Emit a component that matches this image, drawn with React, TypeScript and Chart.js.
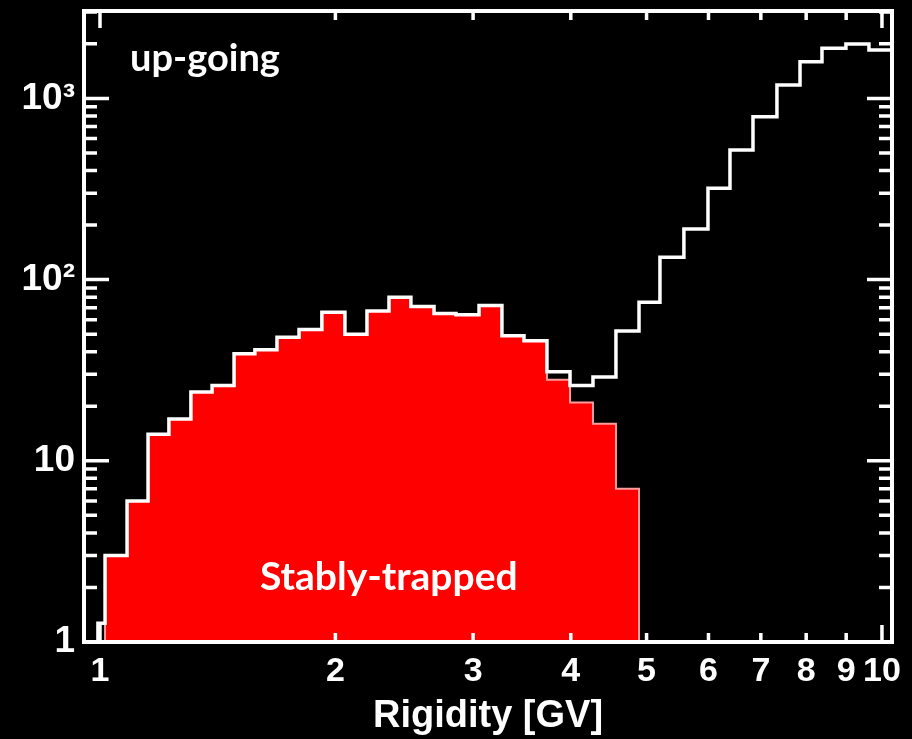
import React, { useEffect, useRef } from 'react';
import { Chart, registerables } from 'chart.js';

Chart.register(...registerables);

// Rigidity bin edges [GV] (log-spaced histogram bins)
const binEdges = [
  0.994, 1.015, 1.083, 1.152, 1.225, 1.307, 1.391, 1.484, 1.578, 1.684,
  1.797, 1.922, 2.057, 2.195, 2.342, 2.498, 2.674, 2.853, 3.053, 3.266,
  3.485, 3.729, 3.991, 4.27, 4.569, 4.89, 5.201, 5.581, 5.991, 6.392,
  6.84, 7.34, 7.856, 8.381, 8.993, 9.624, 10.3,
];

// Counts per bin: all up-going particles
const upGoing = [
  1.27, 3, 6, 14, 17, 24, 26, 39, 41, 48,
  53, 66, 50, 67, 80, 71, 65, 64, 72, 49,
  46, 31, 26, 29, 52, 75, 133, 190, 319, 519,
  793, 1186, 1595, 1891, 1996, 1849,
];

// Counts per bin: stably-trapped subset
const stablyTrapped = [
  0, 3, 6, 14, 17, 24, 26, 39, 41, 48,
  53, 66, 50, 67, 80, 71, 65, 64, 72, 49,
  46, 28, 21, 16, 7, 0, 0, 0, 0, 0,
  0, 0, 0, 0, 0, 0,
];

// Axis ranges
const xRange = [0.954, 10.3];
const yRange = [1, 3036];

// Axis ticks and labels
const xTickValues = [1, 2, 3, 4, 5, 6, 7, 8, 9, 10];
const xMajorMarks = [1, 10];
const xMinorMarks = [2, 3, 4, 5, 6, 7, 8, 9];
const yTickValues = [1, 10, 100, 1000];
const yTickLabels = ['1', '10', '10²', '10³'];
const yMinorMarks = [
  2, 3, 4, 5, 6, 7, 8, 9,
  20, 30, 40, 50, 60, 70, 80, 90,
  200, 300, 400, 500, 600, 700, 800, 900,
  2000, 3000,
];

const xTitle = 'Rigidity [GV]';
const upGoingLabel = 'up-going';
const trappedLabel = 'Stably-trapped';

// Turn per-bin counts into stepped points (empty bins sit on the axis floor)
function histPoints(values: number[]) {
  const floor = yRange[0];
  const pts = [{ x: binEdges[0], y: floor }];
  values.forEach((v, i) => pts.push({ x: binEdges[i], y: Math.max(v, floor) }));
  pts.push({ x: binEdges[values.length], y: Math.max(values[values.length - 1], floor) });
  return pts;
}

// Boxed frame with inward tick marks on all four sides
const frameTicks = {
  id: 'frameTicks',
  afterDatasetsDraw(chart: any) {
    const { ctx, chartArea: a, scales } = chart;
    const xs = scales.x;
    const ys = scales.y;
    ctx.save();
    ctx.strokeStyle = '#ffffff';
    ctx.lineWidth = 3.5;
    ctx.lineCap = 'butt';
    ctx.beginPath();
    const xMark = (v: number, len: number) => {
      const px = xs.getPixelForValue(v);
      ctx.moveTo(px, a.bottom);
      ctx.lineTo(px, a.bottom - len);
      ctx.moveTo(px, a.top);
      ctx.lineTo(px, a.top + len);
    };
    const yMark = (v: number, len: number) => {
      const py = ys.getPixelForValue(v);
      ctx.moveTo(a.left, py);
      ctx.lineTo(a.left + len, py);
      ctx.moveTo(a.right, py);
      ctx.lineTo(a.right - len, py);
    };
    xMajorMarks.forEach((v) => xMark(v, 17));
    xMinorMarks.forEach((v) => xMark(v, 9));
    yTickValues.forEach((v) => yMark(v, 25));
    yMinorMarks.forEach((v) => yMark(v, 13));
    ctx.stroke();
    ctx.lineWidth = 4;
    ctx.strokeRect(a.left, a.top, a.right - a.left, a.bottom - a.top);
    ctx.restore();
  },
};

// In-plot text labels
const panelLabels = {
  id: 'panelLabels',
  afterDatasetsDraw(chart: any) {
    const { ctx, chartArea: a } = chart;
    ctx.save();
    ctx.fillStyle = '#ffffff';
    ctx.textAlign = 'left';
    ctx.textBaseline = 'alphabetic';
    ctx.font = 'bold 38px Lato';
    ctx.fillText(upGoingLabel, a.left + 46, a.top + 60);
    ctx.font = 'bold 39px Lato';
    ctx.fillText(trappedLabel, a.left + 176, a.bottom - 52);
    ctx.restore();
  },
};

export default function App() {
  const canvasRef = useRef<HTMLCanvasElement | null>(null);

  useEffect(() => {
    const canvas = canvasRef.current;
    if (!canvas) return;
    const chart = new Chart(canvas, {
      type: 'line',
      data: {
        datasets: [
          {
            label: 'up-going',
            data: histPoints(upGoing),
            stepped: true,
            borderColor: '#ffffff',
            borderWidth: 3.5,
            fill: false,
            pointRadius: 0,
          },
          {
            label: 'stably-trapped',
            data: histPoints(stablyTrapped),
            stepped: true,
            borderColor: '#ff9c9c',
            borderWidth: 2,
            backgroundColor: '#ff0000',
            fill: 'start',
            pointRadius: 0,
          },
        ],
      },
      options: {
        responsive: false,
        maintainAspectRatio: false,
        animation: false,
        devicePixelRatio: 1,
        layout: { padding: { top: 11, right: 20, left: 0, bottom: 0 } },
        plugins: {
          legend: { display: false },
          tooltip: { enabled: false },
        },
        scales: {
          x: {
            type: 'logarithmic',
            min: xRange[0],
            max: xRange[1],
            afterBuildTicks: (scale: any) => {
              scale.ticks = xTickValues.map((v) => ({ value: v }));
            },
            afterFit: (scale: any) => {
              scale.height = 97;
              scale.paddingLeft = 0;
              scale.paddingRight = 0;
            },
            grid: { display: false, drawTicks: false },
            border: { display: false },
            ticks: {
              autoSkip: false,
              maxRotation: 0,
              padding: 9,
              color: '#ffffff',
              font: { family: 'Liberation Sans', size: 34, weight: 'bold' },
              callback: (v: any) => String(v),
            },
            title: {
              display: true,
              text: xTitle,
              color: '#ffffff',
              font: { family: 'Liberation Sans', size: 38, weight: 'bold', lineHeight: 1.2 },
              padding: { top: 0, bottom: 0 },
            },
          },
          y: {
            type: 'logarithmic',
            min: yRange[0],
            max: yRange[1],
            afterBuildTicks: (scale: any) => {
              scale.ticks = yTickValues.map((v) => ({ value: v }));
            },
            afterFit: (scale: any) => {
              scale.width = 84;
              scale.paddingTop = 0;
              scale.paddingBottom = 0;
            },
            grid: { display: false, drawTicks: false },
            border: { display: false },
            ticks: {
              autoSkip: false,
              padding: 9,
              color: '#ffffff',
              font: { family: 'Liberation Sans', size: 37, weight: 'bold' },
              callback: (v: any) => {
                const i = yTickValues.indexOf(Number(v));
                return i >= 0 ? yTickLabels[i] : '';
              },
            },
          },
        },
      },
      plugins: [frameTicks, panelLabels],
    });
    return () => chart.destroy();
  }, []);

  return (
    <div style={{ position: 'fixed', left: 0, top: 0, width: 912, height: 739, background: '#000000' }}>
      <canvas ref={canvasRef} width={912} height={739} style={{ display: 'block' }} />
    </div>
  );
}
